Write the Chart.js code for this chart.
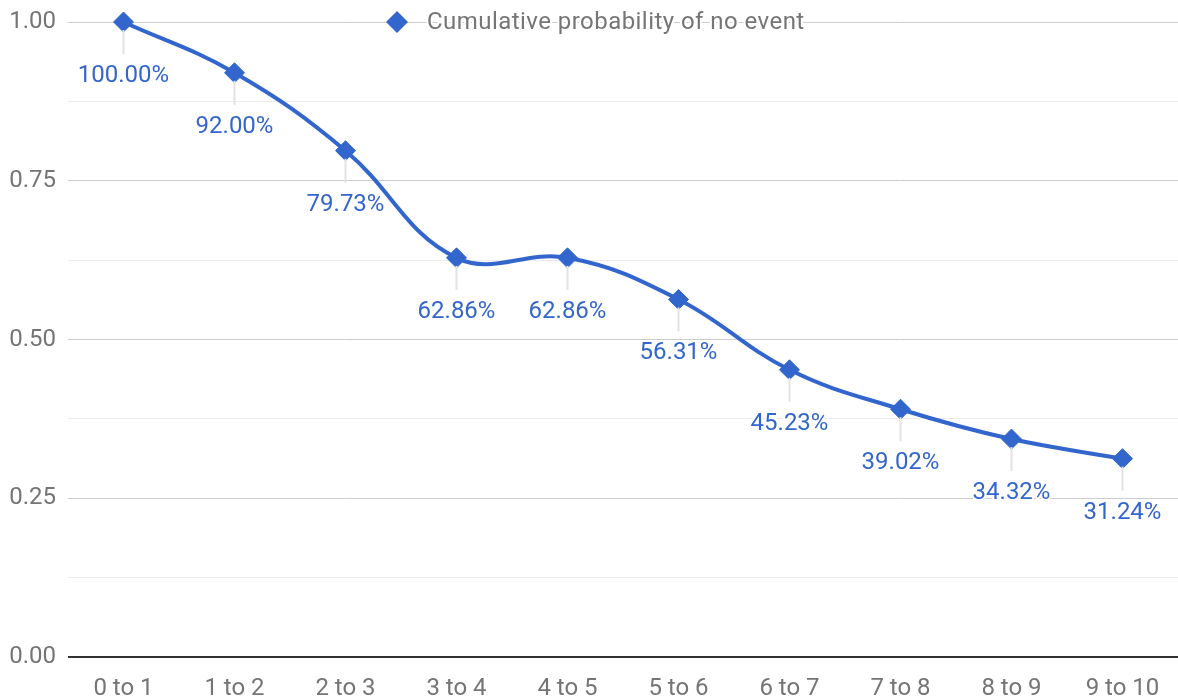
<!DOCTYPE html>
<html>
<head>
<meta charset="utf-8">
<script src="https://cdn.jsdelivr.net/npm/chart.js@4.4.1/dist/chart.umd.min.js"></script>
<style>
  html, body { margin: 0; padding: 0; background: #fff; overflow: hidden; }
  canvas { display: block; }
</style>
</head>
<body>
<canvas id="c" width="1178" height="700"></canvas>
<script>
// Time intervals and cumulative probability of no event in each
const intervals = ['0 to 1', '1 to 2', '2 to 3', '3 to 4', '4 to 5', '5 to 6', '6 to 7', '7 to 8', '8 to 9', '9 to 10'];
const noEventProb = [1.0000, 0.9200, 0.7973, 0.6286, 0.6286, 0.5631, 0.4523, 0.3902, 0.3432, 0.3124];
const seriesName = 'Cumulative probability of no event';
const yTickValues = [0, 0.25, 0.5, 0.75, 1];

const BLUE = '#3366cc';
const FONT = 'Roboto, "Noto Sans", sans-serif';
const FONT_SIZE = 24;

function haloText(ctx, text, x, y, color) {
  ctx.save();
  ctx.lineJoin = 'round';
  ctx.strokeStyle = '#ffffff';
  ctx.lineWidth = 4;
  ctx.strokeText(text, x, y);
  ctx.fillStyle = color;
  ctx.fillText(text, x, y);
  ctx.restore();
}

// Percent labels under each point, with a short leader line
const pointLabels = {
  id: 'pointLabels',
  afterDatasetsDraw(chart) {
    const ctx = chart.ctx;
    const meta = chart.getDatasetMeta(0);
    const values = chart.data.datasets[0].data;
    ctx.save();
    ctx.font = FONT_SIZE + 'px ' + FONT;
    ctx.textAlign = 'center';
    ctx.textBaseline = 'middle';
    meta.data.forEach((pt, i) => {
      ctx.strokeStyle = '#e3e3e3';
      ctx.lineWidth = 2;
      ctx.beginPath();
      ctx.moveTo(pt.x, pt.y + 8);
      ctx.lineTo(pt.x, pt.y + 32);
      ctx.stroke();
      const txt = (values[i] * 100).toFixed(2) + '%';
      haloText(ctx, txt, pt.x, pt.y + 54, BLUE);
    });
    ctx.restore();
  }
};

// Legend centred on the top gridline
const topLegend = {
  id: 'topLegend',
  afterDraw(chart) {
    const ctx = chart.ctx;
    const y = chart.scales.y.getPixelForValue(1);
    ctx.save();
    ctx.font = FONT_SIZE + 'px ' + FONT;
    ctx.textBaseline = 'middle';
    ctx.textAlign = 'left';
    ctx.letterSpacing = '0.45px';
    const mx = 397;
    ctx.fillStyle = BLUE;
    ctx.beginPath();
    ctx.moveTo(mx, y - 11);
    ctx.lineTo(mx + 11, y);
    ctx.lineTo(mx, y + 11);
    ctx.lineTo(mx - 11, y);
    ctx.closePath();
    ctx.fill();
    haloText(ctx, seriesName, mx + 30, y + 1, '#757575');
    ctx.restore();
  }
};

new Chart(document.getElementById('c'), {
  type: 'line',
  data: {
    labels: intervals,
    datasets: [{
      label: seriesName,
      data: noEventProb,
      borderColor: BLUE,
      backgroundColor: BLUE,
      borderWidth: 4,
      tension: 0.4,
      pointStyle: 'rectRot',
      pointRadius: 10,
      pointBorderWidth: 1,
      pointBackgroundColor: BLUE,
      pointBorderColor: BLUE,
      clip: false
    }]
  },
  options: {
    responsive: false,
    animation: false,
    layout: { autoPadding: false, padding: { top: 22, right: 0, bottom: 0, left: 0 } },
    plugins: {
      legend: { display: false },
      tooltip: { enabled: false }
    },
    scales: {
      x: {
        offset: true,
        grid: { display: false },
        border: { display: false },
        ticks: {
          color: '#757575',
          font: { family: FONT, size: FONT_SIZE },
          padding: 10,
          maxRotation: 0,
          autoSkip: false
        },
        afterFit(scale) {
          scale.height = 43;
          scale.paddingLeft = 0;
          scale.paddingRight = 0;
        }
      },
      y: {
        min: 0,
        max: 1,
        border: { display: false },
        grid: {
          drawTicks: false,
          color: (c) => {
            const v = c.tick.value;
            if (Math.abs(v) < 1e-9) return '#333333';
            return yTickValues.some(t => Math.abs(t - v) < 1e-9) ? '#cccccc' : '#ebebeb';
          },
          lineWidth: (c) => (Math.abs(c.tick.value) < 1e-9 ? 2 : 1)
        },
        ticks: {
          stepSize: 0.125,
          color: '#757575',
          font: { family: FONT, size: FONT_SIZE },
          padding: 12,
          callback: (v) => (yTickValues.some(t => Math.abs(t - v) < 1e-9) ? v.toFixed(2) : '')
        },
        afterFit(scale) {
          scale.width = 68;
          scale.paddingTop = 0;
          scale.paddingBottom = 0;
        }
      }
    }
  },
  plugins: [pointLabels, topLegend]
});
</script>
</body>
</html>
